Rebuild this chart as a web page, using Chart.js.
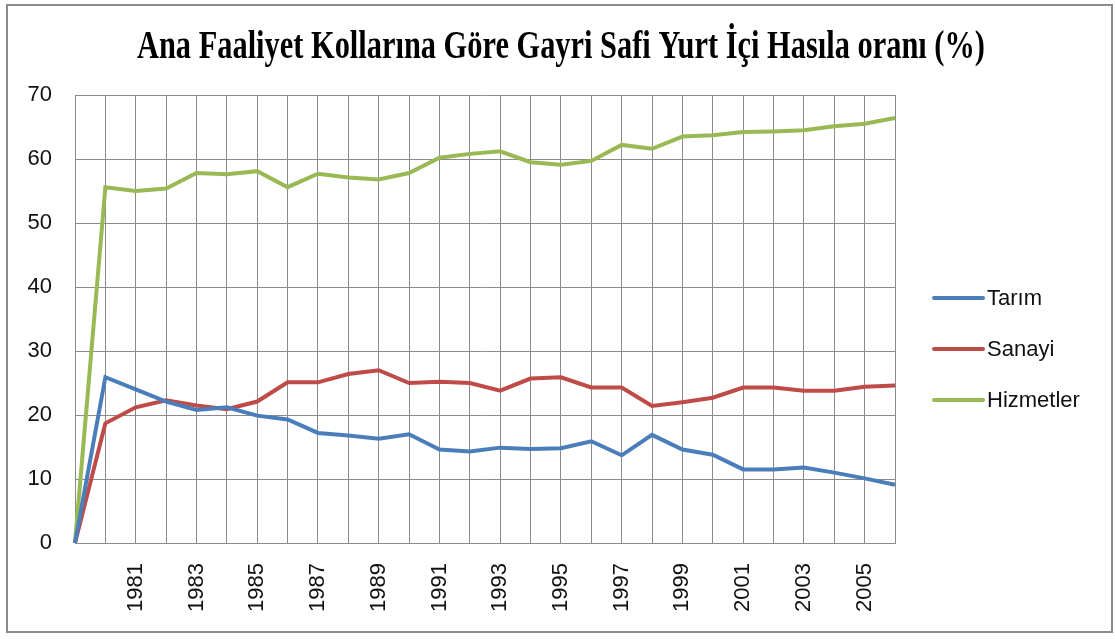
<!DOCTYPE html>
<html>
<head>
<meta charset="utf-8">
<script src="https://cdn.jsdelivr.net/npm/chart.js@4.4.0/dist/chart.umd.min.js"></script>
<style>
  html, body { margin: 0; padding: 0; background: #fff; }
  #wrap { width: 1115px; height: 639px; }
</style>
</head>
<body>
<div id="wrap"><canvas id="chart1" width="1115" height="639"></canvas></div>
<script>
// years on the x axis (first category has no label)
const years = ['', '1980', '1981', '1982', '1983', '1984', '1985', '1986', '1987', '1988',
  '1989', '1990', '1991', '1992', '1993', '1994', '1995', '1996', '1997', '1998',
  '1999', '2000', '2001', '2002', '2003', '2004', '2005', '2006'];

const tarim = [0, 25.9, 24.0, 22.1, 20.8, 21.2, 19.9, 19.3, 17.2, 16.8,
  16.3, 17.0, 14.6, 14.3, 14.9, 14.7, 14.8, 15.9, 13.7, 16.9,
  14.6, 13.8, 11.5, 11.5, 11.8, 11.0, 10.1, 9.1];

const sanayi = [0, 18.7, 21.2, 22.3, 21.5, 20.9, 22.1, 25.1, 25.1, 26.4,
  27.0, 25.0, 25.2, 25.0, 23.8, 25.7, 25.9, 24.3, 24.3, 21.4,
  22.0, 22.7, 24.3, 24.3, 23.8, 23.8, 24.4, 24.6];

const hizmetler = [0, 55.6, 55.0, 55.4, 57.8, 57.6, 58.1, 55.6, 57.7, 57.1,
  56.8, 57.8, 60.2, 60.8, 61.2, 59.5, 59.1, 59.7, 62.2, 61.6,
  63.5, 63.7, 64.2, 64.3, 64.5, 65.1, 65.5, 66.4];

const yTicks = [0, 10, 20, 30, 40, 50, 60, 70];

const titleText = 'Ana Faaliyet Kollarına Göre Gayri Safi Yurt İçi Hasıla oranı (%)';

// outer frame, condensed serif title and the line legend like the Excel original
const frame = {
  id: 'frame',
  afterDraw(chart) {
    const ctx = chart.ctx;
    ctx.save();
    ctx.strokeStyle = '#8c8c8c';
    ctx.lineWidth = 2;
    ctx.strokeRect(7, 5, 1105, 627);

    ctx.font = 'bold 40px "Liberation Serif"';
    ctx.fillStyle = '#000';
    ctx.textBaseline = 'alphabetic';
    const w = ctx.measureText(titleText).width;
    ctx.save();
    ctx.translate(561, 58);
    ctx.scale(848 / w, 1);
    ctx.textAlign = 'center';
    ctx.fillText(titleText, 0, 0);
    ctx.restore();

    // legend
    const lx = chart.chartArea.right + 37;
    ctx.font = '22px "Liberation Sans"';
    ctx.textAlign = 'left';
    ctx.textBaseline = 'middle';
    ctx.lineCap = 'round';
    chart.data.datasets.forEach((ds, i) => {
      const y = 298 + i * 51;
      ctx.strokeStyle = ds.borderColor;
      ctx.lineWidth = 4;
      ctx.beginPath();
      ctx.moveTo(lx + 2, y);
      ctx.lineTo(lx + 51, y);
      ctx.stroke();
      ctx.fillStyle = '#111';
      ctx.fillText(ds.label, lx + 55, y + 1);
    });
    ctx.restore();
  }
};

new Chart('chart1', {
  type: 'line',
  data: {
    labels: years,
    datasets: [
      { label: 'Tarım', data: tarim, borderColor: '#4A7EBB', backgroundColor: '#4A7EBB' },
      { label: 'Sanayi', data: sanayi, borderColor: '#BE4B48', backgroundColor: '#BE4B48' },
      { label: 'Hizmetler', data: hizmetler, borderColor: '#98B954', backgroundColor: '#98B954' }
    ]
  },
  options: {
    responsive: false,
    animation: false,
    devicePixelRatio: 1,
    elements: {
      line: { borderWidth: 4, tension: 0 },
      point: { radius: 0 }
    },
    layout: { padding: { left: 10, right: 220, top: 95, bottom: 8 } },
    scales: {
      x: {
        offset: false,
        grid: { color: '#8a8a8a', drawTicks: false, lineWidth: 1 },
        border: { color: '#8a8a8a' },
        ticks: {
          autoSkip: false,
          maxRotation: 90,
          minRotation: 90,
          padding: 20,
          color: '#111',
          font: { family: 'Liberation Sans', size: 22 },
          callback: function (v, i) { return i % 2 === 0 ? years[i] : ''; }
        },
        afterFit(scale) { scale.height = 639 - 543 - 8; }
      },
      y: {
        min: 0,
        max: 70,
        afterBuildTicks(scale) { scale.ticks = yTicks.map(v => ({ value: v })); },
        grid: { color: '#8a8a8a', drawTicks: false, lineWidth: 1 },
        border: { color: '#8a8a8a' },
        ticks: {
          padding: 23,
          color: '#111',
          font: { family: 'Liberation Sans', size: 22 }
        },
        afterFit(scale) { scale.width = 75 - 10; }
      }
    },
    plugins: {
      title: { display: false },
      legend: { display: false },
      tooltip: { enabled: false }
    }
  },
  plugins: [frame]
});
</script>
</body>
</html>
